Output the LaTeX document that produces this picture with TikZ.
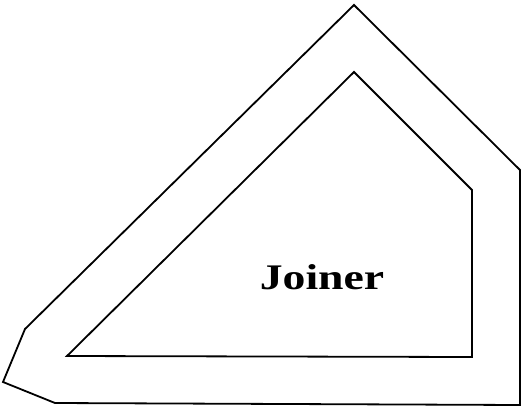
\documentclass[tikz,border=0pt]{standalone}
\usepackage{fontspec}
\setmainfont{Liberation Serif}
\begin{document}
\begin{tikzpicture}[x=1pt,y=-1pt,
  outline/.style={draw=black,line width=1.8pt,line join=miter},
  lbl/.style={font=\bfseries\fontsize{36}{36}\selectfont,xscale=1.27,inner sep=0pt}]
\useasboundingbox (0,0) rectangle (523,408);
\draw[outline] (354,5) -- (520,170) -- (520,405) -- (55,403) -- (3,382) -- (25,329) -- cycle;
\draw[outline] (354,72) -- (472,190) -- (472,357) -- (67,356) -- cycle;
\node[lbl] (joiner) at (322,277) {Joiner};
\end{tikzpicture}
\end{document}
